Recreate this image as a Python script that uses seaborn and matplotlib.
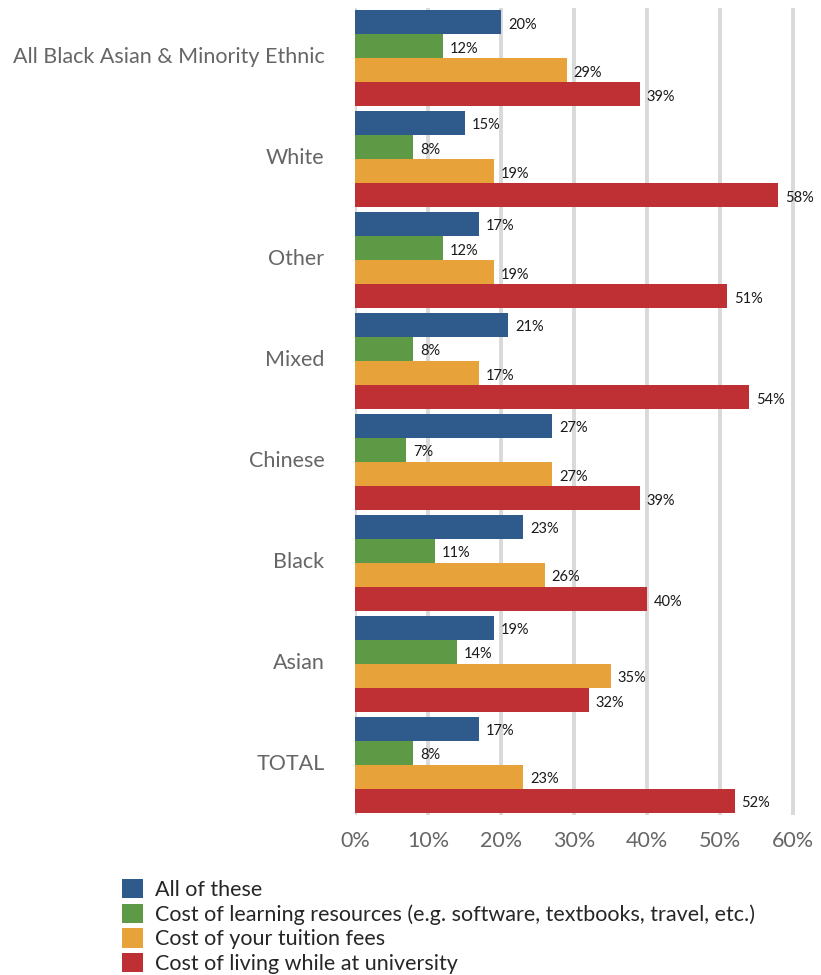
import matplotlib
matplotlib.use("Agg")
import matplotlib.pyplot as plt
import matplotlib.transforms as mtransforms
import seaborn as sns
import pandas as pd
from matplotlib.patches import Patch

categories = ["All Black Asian & Minority Ethnic", "White", "Other", "Mixed",
              "Chinese", "Black", "Asian", "TOTAL"]
series = ["All of these",
          "Cost of learning resources (e.g. software, textbooks, travel, etc.)",
          "Cost of your tuition fees",
          "Cost of living while at university"]
all_of_these = [20, 15, 17, 21, 27, 23, 19, 17]
learning = [12, 8, 12, 8, 7, 11, 14, 8]
tuition = [29, 19, 19, 17, 27, 26, 35, 23]
living = [39, 58, 51, 54, 39, 40, 32, 52]
colors = ["#2E5A8C", "#5E9A46", "#E8A23A", "#BF3034"]
xticks = [0, 10, 20, 30, 40, 50, 60]

rows = []
for s, vals in zip(series, [all_of_these, learning, tuition, living]):
    for c, v in zip(categories, vals):
        rows.append({"cat": c, "series": s, "value": v})
df = pd.DataFrame(rows)

sns.set_style("white")
plt.rcParams["font.family"] = ["Lato", "DejaVu Sans"]

fig = plt.figure(figsize=(8.21, 9.75), dpi=100)
left_px, right_px = 355, 795.2
ax = fig.add_axes([left_px / 821, 1 - 815.3 / 975,
                   (right_px - left_px) / 821, (815.3 - 7.7) / 975])

sns.barplot(data=df, y="cat", x="value", hue="series", order=categories,
            hue_order=series, palette=colors, orient="h", width=0.955,
            legend=False, ax=ax, saturation=1, errorbar=None, linewidth=0)

for cont in ax.containers:
    vals = [p.get_width() for p in cont.patches]
    texts = ax.bar_label(cont, labels=[f"{v:.0f}%" for v in vals], padding=5,
                         fontsize=10.5, color="#1a1a1a")
    for t in texts:
        x0, y0 = t.xyann
        t.xyann = (x0, y0 - 1.8)

ax.set_xlim(0, 60.3)
ax.set_xticks(xticks)
ax.set_xticklabels([f"{t}%" for t in xticks], fontsize=15.5, color="#666666")
ax.tick_params(axis="x", length=0, pad=11)
ax.tick_params(axis="y", length=0, pad=22, labelsize=15.5, labelcolor="#666666")
ax.set_xlabel("")
ax.set_ylabel("")
ax.set_ylim(len(categories) - 0.5, -0.5)
ax.xaxis.grid(True, color="#d9d9d9", linewidth=2.8)
ax.set_axisbelow(True)
for sp in ax.spines.values():
    sp.set_visible(False)

up = mtransforms.ScaledTranslation(0, 3 / 100, fig.dpi_scale_trans)
for lab in ax.get_yticklabels():
    lab.set_transform(lab.get_transform() + up)

handles = [Patch(facecolor=c, edgecolor="none") for c in colors]
fig.legend(handles, series, loc="upper left", bbox_to_anchor=(0.148, 0.0985),
           frameon=False, fontsize=15.5, handlelength=1.0, handleheight=1.0,
           handletextpad=0.55, labelspacing=0.17, borderaxespad=0, borderpad=0)

fig.savefig("out.png", dpi=100)
